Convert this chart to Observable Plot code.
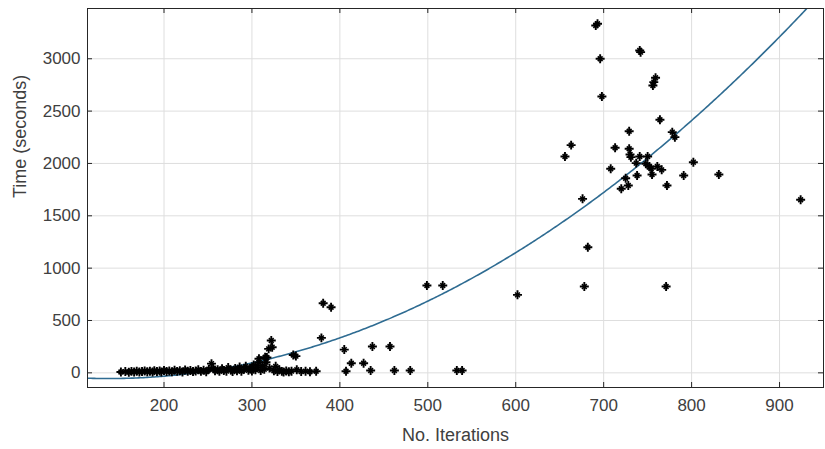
<!DOCTYPE html>
<html>
<head>
<meta charset="utf-8">
<script src="https://cdn.jsdelivr.net/npm/d3@7"></script>
<script src="https://cdn.jsdelivr.net/npm/@observablehq/plot@0.6"></script>
<style>
  html, body { margin: 0; padding: 0; background: #fff; }
  #chart { width: 825px; height: 449px; }
</style>
</head>
<body>
<div id="chart"></div>
<script>
// Run time of each solve against the number of iterations it took
const iterations = [
  151, 156, 160, 163, 166, 169, 172, 175, 178, 181, 184, 187, 189, 192, 195, 197,
  200, 203, 206, 209, 212, 215, 218, 221, 224, 227, 230, 233, 236, 239, 242, 245,
  248, 251, 254, 256, 258, 261, 263, 266, 268, 271, 273, 276, 278, 281, 283, 286,
  288, 291, 293, 296, 298, 300, 302, 304, 306, 308, 308, 310, 312, 314, 315, 316,
  317, 319, 320, 322, 323, 325, 327, 329, 331, 334, 336, 339, 342, 345, 347, 350,
  351, 356, 361, 366, 373, 379, 381, 390, 405, 407, 413, 427, 435, 437, 457, 462,
  480, 499, 517, 533, 539, 602,
  656, 663, 676, 678, 682, 691, 693, 696, 698, 708, 713, 720, 725, 728, 729, 729,
  730, 731, 737, 738, 741, 741, 742, 748, 750, 752, 754, 755, 756, 757, 759, 761,
  764, 766, 771, 772, 778, 781, 791, 802, 831, 924
];
const seconds = [
  8, 12, 6, 14, 9, 16, 7, 12, 18, 10, 15, 8, 20, 12, 17, 9,
  22, 13, 18, 10, 25, 14, 20, 9, 28, 15, 22, 12, 18, 30, 14, 25,
  10, 35, 88, 45, 20, 30, 14, 40, 22, 16, 50, 28, 12, 42, 20, 55,
  15, 35, 62, 24, 45, 18, 75, 30, 50, 101, 134, 22, 68, 35, 149, 101,
  146, 229, 45, 309, 245, 20, 62, 12, 30, 14, 8, 18, 10, 16, 170, 160,
  29, 12, 15, 10, 15, 334, 665, 627, 222, 15, 92, 92, 22, 251, 251, 22,
  22, 834, 834, 22, 22, 745,
  2066, 2175, 1662, 824, 1200, 3318, 3334, 3000, 2640, 1949, 2150, 1758, 1859, 1789, 2308, 2140,
  2086, 2060, 2003, 1885, 2066, 3079, 3063, 1997, 2066, 1971, 1949, 1895, 2745, 2777, 2818, 1971,
  2417, 1939, 824, 1789, 2299, 2251, 1885, 2012, 1895, 1653
];

// Quadratic least-squares fit: time = c0 + c1*n + c2*n^2
const fitCoef = [50, -1.53, 0.0056];
const fitSpan = [113, 950];

// Axis ticks
const xTicks = [200, 300, 400, 500, 600, 700, 800, 900];
const yTicks = [0, 500, 1000, 1500, 2000, 2500, 3000];

const runs = iterations.map((n, i) => ({n, t: seconds[i]}));
const fit = d3.range(fitSpan[0], fitSpan[1] + 1, 2)
  .map(n => ({n, t: fitCoef[0] + fitCoef[1] * n + fitCoef[2] * n * n}));

const W = 825, H = 449;
const M = {left: 87, right: 2, top: 8, bottom: 62};
const frameW = W - M.left - M.right;
const frameH = H - M.top - M.bottom;
const axisColor = "#262626";
const labelColor = "#404040";
const tick = 5;

const chart = Plot.plot({
  width: W,
  height: H,
  marginLeft: M.left,
  marginRight: M.right,
  marginTop: M.top,
  marginBottom: M.bottom,
  x: {domain: fitSpan},
  y: {domain: [-140, 3480]},
  style: {fontFamily: "'Liberation Sans', Arial, sans-serif", background: "#fff", overflow: "visible"},
  marks: [
    Plot.gridX(xTicks, {stroke: "#dedede", strokeOpacity: 1}),
    Plot.gridY(yTicks, {stroke: "#dedede", strokeOpacity: 1}),
    Plot.line(fit, {x: "n", y: "t", stroke: "#2f6c92", strokeWidth: 1.6, clip: true}),
    Plot.dot(runs, {x: "n", y: "t", symbol: "plus", stroke: "#000", strokeWidth: 1.9, r: 3.0}),
    Plot.dot(runs, {x: "n", y: "t", symbol: "times", stroke: "#000", strokeWidth: 1.6, r: 2.3}),
    // inward ticks on all four sides
    Plot.tickX(xTicks, {x: d => d, insetTop: frameH - tick, stroke: axisColor}),
    Plot.tickX(xTicks, {x: d => d, insetBottom: frameH - tick, stroke: axisColor}),
    Plot.tickY(yTicks, {y: d => d, insetRight: frameW - tick, stroke: axisColor}),
    Plot.tickY(yTicks, {y: d => d, insetLeft: frameW - tick, stroke: axisColor}),
    Plot.frame({stroke: axisColor}),
    Plot.axisX(xTicks, {tickSize: 0, tickPadding: 11, fontSize: 17, fill: labelColor, label: null, tickFormat: d3.format("d")}),
    Plot.axisY(yTicks, {tickSize: 0, tickPadding: 7, fontSize: 17, fill: labelColor, label: null, tickFormat: d3.format("d")}),
    Plot.text(["No. Iterations"], {frameAnchor: "bottom", dy: 53, fontSize: 18, fill: labelColor}),
    Plot.text(["Time (seconds)"], {frameAnchor: "left", rotate: -90, dx: -67, fontSize: 18, fill: labelColor})
  ]
});

document.getElementById("chart").append(chart);
</script>
</body>
</html>
